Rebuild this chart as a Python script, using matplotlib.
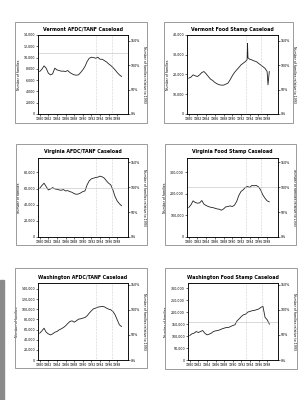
import numpy as np
import matplotlib
matplotlib.use("Agg")
import matplotlib.pyplot as plt
from matplotlib.patches import Rectangle

# half-year points, 1980 .. 1999
yrs = [1980 + 0.5 * i for i in range(39)]

vt_afdc = [7530, 7940, 8530, 8120, 7240, 6940, 7120, 8120, 7820, 7710,
           7590, 7590, 7530, 7710, 7350, 7120, 6940, 6880, 6940, 7350,
           7820, 8410, 9290, 9880, 10060, 10000, 9880, 10060, 9700, 9700,
           9470, 9230, 8880, 8590, 8240, 7820, 7350, 6940, 6650]

vt_fs_yrs = [1980 + 0.5 * i for i in range(27)] + [1993.4, 1993.5, 1993.6] + \
            [1994 + 0.5 * i for i in range(9)] + [1998.2, 1998.5]
vt_fs = [18150, 18650, 19820, 19320, 18980, 19820, 21000, 21500, 20330, 18980,
         17640, 16970, 15960, 15290, 14780, 14620, 14620, 15120, 15620, 17300,
         19320, 21000, 22340, 23520, 24860, 25700, 26540,
         27500, 35780, 28500,
         27720, 27380, 26880, 26540, 25700, 24860, 24020, 23180, 21500,
         14780, 21500]

va_afdc = [60420, 63750, 66670, 62500, 58330, 59580, 61250, 59580, 59170, 58330,
           57920, 58750, 57080, 57500, 56250, 55420, 53750, 52920, 53330, 54580,
           56250, 57080, 64580, 69580, 72080, 72920, 73750, 74170, 75420, 74580,
           72920, 69580, 66670, 64580, 58330, 50000, 44580, 41250, 38750]

va_fs = [136840, 149300, 167960, 160170, 157060, 158610, 169500, 152400, 146200, 141500,
         138400, 136840, 133700, 130600, 129100, 124400, 130600, 140000, 141500, 144600,
         141500, 147700, 164800, 192800, 211500, 219300, 230100, 234800, 230100, 239500,
         237900, 239500, 233300, 219300, 195900, 180400, 167900, 163300]

wa_afdc = [52800, 57400, 62700, 54800, 51500, 49500, 51500, 54800, 56100, 59400,
           61400, 64000, 67300, 71900, 75900, 77200, 74600, 77200, 80500, 81200,
           82500, 83800, 87100, 92400, 97000, 101000, 102300, 104300, 104900, 105600,
           104900, 102300, 100300, 99000, 95700, 89100, 79200, 69300, 66000]

wa_fs = [102000, 109000, 111800, 118700, 114600, 118700, 122900, 111800, 104800, 107600,
         111800, 118700, 121500, 122900, 125700, 129900, 132700, 135500, 135500, 139700,
         143900, 146700, 163400, 171800, 181600, 188600, 191400, 199800, 202600, 205400,
         206800, 209600, 212300, 219300, 223500, 177400, 167600, 149500]

panels = [
    # title, x, y, ymax, ystep, pct_top, hline, plot box px, frame box px
    ("Vermont AFDC/TANF Caseload", yrs, vt_afdc, 14000, 2000, 162, 10880,
     (38, 35, 128, 114), (15, 22, 147, 123)),
    ("Vermont Food Stamp Caseload", vt_fs_yrs, vt_fs, 40000, 10000, 162, None,
     (187, 35, 278, 114), (164, 22, 293, 123)),
    ("Virginia AFDC/TANF Caseload", yrs, va_afdc, 97900, 20000, 159, 61250,
     (38, 158, 128, 237), (16, 144, 147, 245)),
    ("Virginia Food Stamp Caseload", yrs[:38], va_fs, 367000, 100000, 159, 231700,
     (187, 158, 278, 237), (165, 144, 296, 245)),
    ("Washington AFDC/TANF Caseload", yrs, wa_afdc, 151800, 20000, 153, None,
     (38, 283, 128, 360), (15, 268, 147, 368)),
    ("Washington Food Stamp Caseload", yrs[:38], wa_fs, 321000, 50000, 153, 158000,
     (188, 283, 278, 360), (165, 268, 297, 369)),
]

W, H = 305, 400
fig = plt.figure(figsize=(W / 100, H / 100), dpi=100)
fig.patch.set_facecolor("white")

# scan edge on the left
fig.patches.append(Rectangle((0, 0), 4 / W, 120 / H, transform=fig.transFigure,
                             color="#8a8a8a", zorder=0))

fs = 2.3
for title, x, y, ymax, ystep, ptop, hline, (x0, y0, x1, y1), (fx0, fy0, fx1, fy1) in panels:
    fig.patches.append(Rectangle((fx0 / W, 1 - fy1 / H), (fx1 - fx0) / W, (fy1 - fy0) / H,
                                 transform=fig.transFigure, fill=False,
                                 edgecolor="#9a9a9a", linewidth=0.7))
    ax = fig.add_axes([x0 / W, 1 - y1 / H, (x1 - x0) / W, (y1 - y0) / H])
    ax.plot(x, y, color="#222222", linewidth=0.6)
    ax.set_xlim(1979.6, 2000.5)
    ax.set_ylim(0, ymax)
    ax.set_xticks(range(1980, 2000, 2))
    ax.set_xticklabels([str(v) for v in range(1980, 2000, 2)], fontsize=fs)
    yt = np.arange(0, ymax + 1, ystep)
    ax.set_yticks(yt)
    ax.set_yticklabels(["0" if v == 0 else f"{int(v):,}" for v in yt], fontsize=fs)
    ax.tick_params(length=1.2, width=0.4, pad=1)
    for s in ax.spines.values():
        s.set_linewidth(0.5)
    ax.axvline(1993.1, color="#aaaaaa", linewidth=0.4, linestyle=":")
    ax.axvline(1996.7, color="#aaaaaa", linewidth=0.4, linestyle=":")
    if hline is not None:
        ax.axhline(hline, color="#bbbbbb", linewidth=0.4)
    ax.set_ylabel("Number of families", fontsize=fs, labelpad=2)

    ax2 = ax.twinx()
    ax2.set_ylim(0, ptop)
    ax2.set_yticks([0, 50, 100, 150])
    ax2.set_yticklabels(["0%", "50%", "100%", "150%"], fontsize=fs)
    ax2.tick_params(length=1.2, width=0.4, pad=1)
    ax2.set_ylabel("Number of families relative to 1993", fontsize=fs,
                   rotation=270, labelpad=4)
    for s in ax2.spines.values():
        s.set_linewidth(0.5)

    fig.text((x0 + x1) / 2 / W, 1 - (y0 - 6) / H, title, fontsize=3.4,
             fontweight="bold", ha="center", va="center")

fig.savefig("out.png", dpi=100)
